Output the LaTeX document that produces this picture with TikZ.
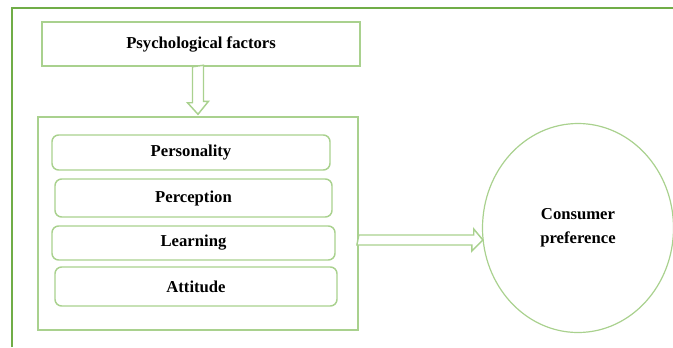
\documentclass[tikz,border=0pt]{standalone}
\usepackage{fontspec}
\setmainfont{Liberation Serif}
\usetikzlibrary{calc, shapes.geometric}
\definecolor{FrameGreen}{HTML}{70AD47}
\definecolor{BoxGreen}{HTML}{A9D18E}

\begin{document}
\begin{tikzpicture}[x=0.75pt, y=-0.75pt,
  factorbox/.style={draw=BoxGreen, line width=1.1pt, rounded corners=5pt, inner sep=0pt,
    font=\fontsize{12.5}{15}\selectfont\bfseries},
  blockarrow/.style={draw=BoxGreen, line width=1.1pt, line join=miter, fill=white}]
  \useasboundingbox (0,0) rectangle (673,347);
  \draw[FrameGreen, line width=1pt] (12,347) |- (673,8);
  \node[draw=BoxGreen, line width=1.1pt, minimum width=238.5pt, minimum height=33pt,
    font=\fontsize{12.5}{15}\selectfont\bfseries] (psy) at (201,44) {Psychological factors};
  \node[draw=BoxGreen, line width=1.1pt, minimum width=240pt, minimum height=159.75pt] (inner) at (198,223.5) {};
  \node[factorbox, minimum width=208.5pt, minimum height=26.25pt] (pers) at (191,152.5) {Personality};
  \node[factorbox, minimum width=207.75pt, minimum height=28.5pt] (perc) at (193.5,198) {Perception};
  \node[factorbox, minimum width=212.25pt, minimum height=25.5pt] (learn) at (193.5,243) {Learning};
  \node[factorbox, minimum width=211.5pt, minimum height=29.25pt] (att) at (196,286.5) {Attitude};
  \node[ellipse, draw=BoxGreen, line width=0.9pt, minimum width=143.25pt, minimum height=156.75pt,
    inner sep=0pt, align=center, font=\fontsize{12.5}{18}\selectfont\bfseries] (pref) at (578,228)
    {Consumer\\preference};
  \draw[blockarrow] ($(psy.south -| inner.north)+(-5.5,0)$) -- ++(0,36) -- ++(-5,0)
    -- ($(inner.north)+(0,-2)$) -- ++(10.5,-13) -- ++(-5,0) -- ++(0,-36) -- cycle;
  \draw[blockarrow] ($(inner.east)+(0,11.5)$) -- ++(115,0) -- ++(0,-6)
    -- ($(pref.west)+(1,12)$) -- ++(-11,11) -- ++(0,-6) -- ++(-115,0) -- cycle;
\end{tikzpicture}
\end{document}
